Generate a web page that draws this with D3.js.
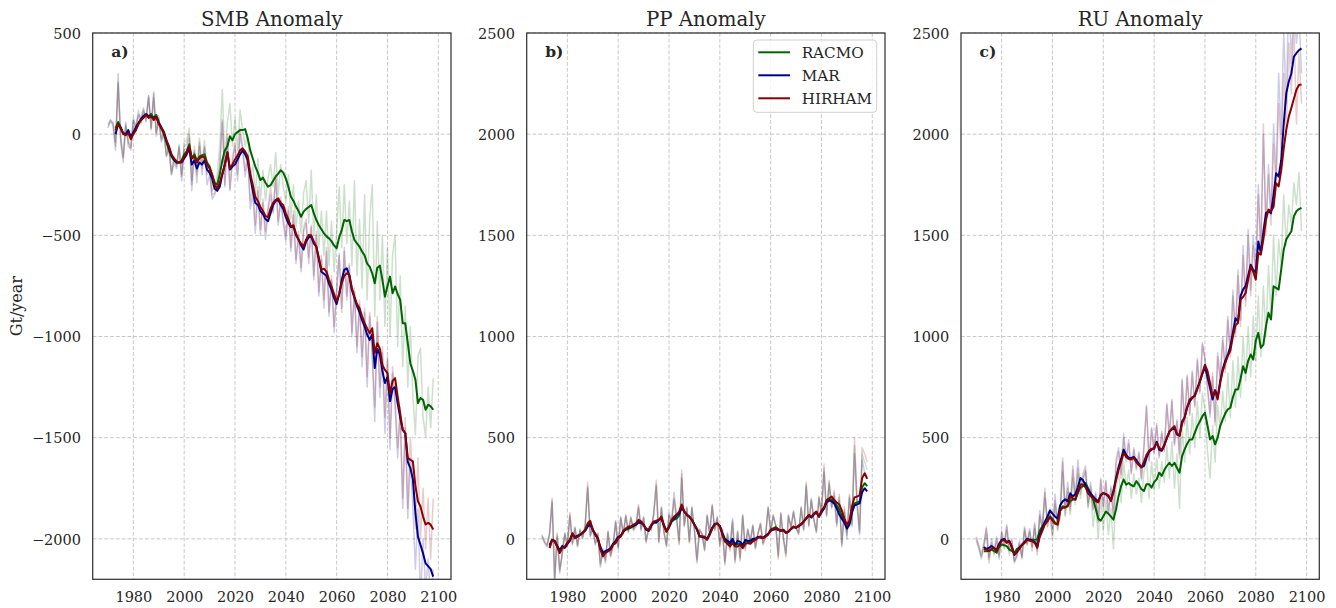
<!DOCTYPE html>
<html><head><meta charset="utf-8">
<script src="https://cdn.jsdelivr.net/npm/d3@7"></script>
<style>body{margin:0;background:#fff} svg{display:block}</style>
</head><body><svg id="chart" width="1336" height="608"></svg>
<script>
// ---------------- DATA ----------------
const rawStartYear = 1970;      // first year of annual (thin) series
const smoothStartYear = 1973;   // first year of running-mean (thick) series
const models = ["RACMO", "MAR", "HIRHAM"];
const panelTitles = ["SMB Anomaly", "PP Anomaly", "RU Anomaly"];
const panelLabels = ["a)", "b)", "c)"];
const yAxisLabel = "Gt/year";
const xTickValues = [1980, 2000, 2020, 2040, 2060, 2080, 2100];
const yTicksSMB = [-2000, -1500, -1000, -500, 0, 500];
const yTicksPPRU = [0, 500, 1000, 1500, 2000, 2500];
const yDomainSMB = [-2200, 500];
const yDomainPPRU = [-200, 2500];
const xDomain = [1964, 2105];

// SMB annual values 1970-2098
const smbRawRACMO = [50,70,60,-40,260,-10,-110,50,-40,-60,
 70,30,120,50,110,80,190,30,180,10,
 90,-30,20,-110,-50,-200,-110,-160,-50,-200,
 -40,-30,30,-230,-60,-180,-20,-150,-30,-180,
 -150,-280,-260,-200,-60,220,-130,60,150,-60,
 80,-80,120,20,-60,0,-230,-150,-300,-120,
 -330,-180,-330,-220,-150,-260,-90,-300,-150,-260,
 -330,-200,-420,-250,-460,-330,-490,-290,-230,-440,
 -180,-500,-300,-560,-380,-600,-380,-650,-430,-680,
 -480,-260,-560,-250,-540,-330,-650,-230,-700,-420,
 -760,-300,-820,-420,-250,-900,-430,-820,-500,-950,
 -560,-1000,-600,-500,-1050,-700,-1150,-850,-1250,-950,
 -1300,-1485,-1100,-1058,-1400,-1495,-1250,-1450,-1206];
const smbRawMAR = [30,70,40,-80,300,-40,-140,60,-60,-70,
 80,40,100,80,130,60,190,30,210,0,
 70,-40,0,-110,-80,-200,-140,-170,-60,-230,
 -80,-70,-20,-280,-90,-240,-60,-200,-70,-250,
 -200,-320,-300,-260,-170,70,-260,-20,-280,-140,
 -60,-230,0,-80,-210,-120,-370,-300,-490,-280,
 -500,-340,-520,-380,-300,-390,-220,-450,-330,-440,
 -530,-380,-580,-400,-640,-500,-680,-480,-440,-640,
 -460,-720,-500,-800,-620,-860,-580,-900,-720,-980,
 -780,-590,-860,-560,-800,-650,-1000,-780,-1080,-840,
 -1150,-880,-1250,-900,-1100,-1420,-930,-1300,-1080,-1480,
 -1120,-1560,-1180,-1350,-1600,-1380,-1850,-1450,-1900,-1600,
 -1850,-2150,-1850,-2300,-2000,-2250,-2100,-2300,-2150];
const smbRawHIRHAM = [40,60,55,-60,250,-20,-120,40,-30,-80,
 60,20,90,60,120,70,180,20,200,-10,
 80,-20,10,-100,-60,-190,-120,-150,-70,-210,
 -60,-50,0,-250,-80,-200,-40,-170,-60,-200,
 -180,-300,-290,-240,-150,60,-250,0,-270,-110,
 -40,-200,30,-60,-180,-100,-330,-260,-450,-260,
 -470,-320,-480,-360,-260,-380,-200,-430,-310,-420,
 -500,-360,-560,-380,-620,-480,-660,-460,-420,-610,
 -450,-700,-480,-780,-600,-820,-560,-880,-700,-950,
 -760,-600,-880,-580,-820,-640,-980,-760,-1050,-820,
 -1100,-860,-1200,-880,-1080,-1350,-900,-1250,-1050,-1400,
 -1100,-1500,-1150,-1300,-1550,-1350,-1800,-1400,-1850,-1500,
 -1700,-1950,-1600,-2000,-1750,-2050,-1800,-2100,-1800];

// SMB running mean 1973-2098
const smbMeanRACMO = [30,60,35,5,0,15,-20,
 5,25,50,70,85,95,85,100,80,95,
 60,30,0,-40,-80,-110,-130,-140,-140,-130,
 -100,-85,-50,-120,-100,-130,-110,-105,-100,-140,
 -160,-200,-240,-250,-200,-130,-80,-60,-10,-30,
 0,10,20,20,25,-20,-80,-120,-160,-190,
 -227,-215,-240,-260,-252,-230,-210,-195,-178,-190,
 -219,-260,-309,-330,-358,-380,-408,-383,-370,-360,
 -350,-390,-424,-450,-470,-490,-505,-515,-530,-550,
 -564,-510,-474,-424,-430,-424,-480,-523,-540,-556,
 -580,-600,-640,-655,-688,-737,-660,-650,-720,-803,
 -750,-704,-786,-753,-790,-819,-934,-934,-1033,-1132,
 -1170,-1214,-1329,-1304,-1313,-1362,-1337,-1345,-1362];
const smbMeanMAR = [0,50,30,5,0,20,-15,
 10,35,55,75,90,100,90,85,80,85,
 55,35,10,-30,-65,-105,-125,-140,-140,-140,
 -120,-100,-70,-150,-130,-170,-140,-150,-130,-175,
 -190,-220,-270,-280,-260,-200,-150,-90,-175,-160,
 -150,-125,-100,-80,-100,-130,-210,-280,-340,-350,
 -380,-395,-420,-430,-391,-350,-330,-325,-350,-370,
 -410,-440,-460,-455,-500,-520,-550,-570,-530,-510,
 -505,-540,-556,-620,-680,-690,-700,-740,-770,-810,
 -840,-790,-720,-670,-663,-700,-770,-810,-850,-880,
 -920,-950,-990,-1017,-990,-1156,-1060,-1090,-1170,-1230,
 -1200,-1320,-1260,-1250,-1330,-1400,-1461,-1477,-1620,-1650,
 -1705,-1872,-1990,-2030,-2072,-2121,-2135,-2150,-2187];
const smbMeanHIRHAM = [20,50,30,0,-5,5,-25,
 0,20,50,70,80,95,80,90,70,85,
 50,30,10,-30,-60,-100,-120,-135,-140,-135,
 -110,-90,-60,-120,-110,-140,-120,-110,-115,-150,
 -170,-200,-250,-270,-240,-195,-150,-90,-170,-150,
 -125,-105,-80,-70,-85,-110,-195,-250,-310,-330,
 -360,-380,-405,-410,-367,-340,-325,-317,-340,-350,
 -391,-420,-457,-450,-490,-523,-540,-556,-520,-498,
 -500,-530,-556,-610,-671,-665,-679,-720,-753,-790,
 -827,-790,-737,-700,-688,-696,-760,-803,-840,-860,
 -900,-934,-960,-984,-959,-1082,-1033,-1060,-1140,-1165,
 -1181,-1280,-1220,-1206,-1296,-1380,-1461,-1477,-1600,-1609,
 -1617,-1740,-1814,-1840,-1890,-1929,-1921,-1930,-1954];

// PP annual values 1970-2098
const ppRawRACMO = [15,-15,-35,25,190,-190,20,-160,-70,25,
 -35,120,-25,55,-35,45,5,65,260,15,
 55,-25,25,-130,-55,-110,35,-85,-35,85,
 -45,105,25,115,35,105,45,65,160,45,
 105,-15,55,45,125,270,-15,155,35,-35,
 110,70,190,90,-30,320,65,155,-15,155,
 45,-110,45,25,-55,115,25,165,45,105,
 -30,45,-120,25,-50,90,-110,35,-100,115,
 -50,45,-15,65,-45,25,75,-25,15,155,
 35,115,65,-90,125,5,-80,115,55,135,
 55,25,155,45,270,65,195,95,35,205,
 125,350,115,280,155,225,70,205,-30,145,
 15,210,70,460,180,30,420,380,340];
const ppRawMAR = [10,-20,-40,20,180,-220,10,-170,-60,30,
 -30,110,-30,50,-30,40,10,60,250,10,
 50,-30,20,-120,-50,-100,30,-80,-30,90,
 -40,100,30,110,40,100,50,70,150,40,
 110,-10,50,50,120,260,-10,150,30,-30,
 130,90,230,100,-10,300,70,150,-10,150,
 50,-100,50,20,-50,120,30,160,50,110,
 -20,50,-110,30,-40,100,-100,40,-90,120,
 -40,50,-10,70,-50,30,70,-20,20,150,
 40,110,70,-80,120,10,-70,110,60,130,
 50,30,150,50,260,70,190,90,40,200,
 120,330,110,270,150,210,60,190,-40,130,
 0,200,60,420,160,20,390,330,300];
const ppRawHIRHAM = [20,-10,-30,30,200,-200,30,-150,-80,20,
 -40,130,-20,60,-40,50,0,70,280,20,
 60,-20,30,-140,-60,-120,40,-90,-40,80,
 -50,110,20,120,30,110,40,60,170,50,
 100,-20,60,40,130,290,-20,160,40,-40,
 120,80,200,110,-20,340,60,160,-20,160,
 40,-120,40,30,-60,110,20,170,40,100,
 -40,40,-130,20,-60,80,-120,30,-110,110,
 -60,40,-20,60,-40,20,80,-30,10,160,
 30,120,60,-100,130,0,-90,120,50,140,
 60,20,160,40,280,60,200,100,30,210,
 130,370,120,290,160,240,80,220,-20,160,
 30,220,80,500,200,40,450,420,380];

// PP running mean 1973-2098
const ppMeanRACMO = [-40,-5,-10,-38,-60,-40,-40,
 -20,-5,25,5,12,20,28,42,70,80,
 45,22,2,-45,-80,-65,-58,-50,-28,-15,
 5,12,35,45,50,55,62,70,85,80,
 68,48,40,65,82,85,92,105,65,35,
 55,85,95,100,115,160,135,118,108,92,
 70,48,12,12,10,-2,22,52,72,75,
 62,25,-8,-20,-30,-15,-32,-25,-25,-38,
 -15,-15,-18,-8,-3,8,10,5,12,22,
 45,52,58,48,40,45,30,36,50,60,
 55,64,73,85,102,116,108,122,132,110,
 135,150,185,195,195,185,165,145,115,90,
 60,75,140,175,180,185,255,275,260];
const ppMeanMAR = [-30,-5,-10,-35,-55,-35,-45,
 -25,-10,25,10,15,20,30,40,60,70,
 45,20,0,-40,-70,-60,-55,-45,-25,-10,
 10,15,35,50,55,60,65,70,80,80,
 70,45,40,65,80,80,95,100,65,40,
 60,90,100,115,125,155,135,120,110,95,
 70,45,15,10,5,0,25,55,75,75,
 65,30,0,-10,-20,0,-30,-10,-15,-30,
 -5,-10,-10,0,0,10,5,5,15,25,
 40,45,48,45,40,42,30,35,48,58,
 55,62,70,85,100,115,105,120,130,110,
 130,150,180,190,185,175,150,120,100,80,
 50,70,130,165,170,175,230,250,235];
const ppMeanHIRHAM = [-46,-5,-13,-40,-70,-46,-38,
 -20,-5,28,3,10,20,30,44,77,89,
 44,25,3,-54,-87,-70,-62,-54,-30,-21,
 3,12,40,50,61,61,70,77,94,86,
 70,50,44,69,86,90,94,110,69,36,
 60,94,110,120,135,170,135,118,110,94,
 70,50,12,12,10,-5,20,50,70,77,
 61,20,-13,-25,-38,-21,-38,-38,-30,-46,
 -25,-21,-25,-13,-5,5,12,3,10,20,
 44,50,53,44,40,44,30,36,50,61,
 55,65,75,85,102,118,110,125,135,110,
 140,155,192,200,209,192,180,170,140,100,
 70,90,160,205,209,215,300,324,296];

// RU annual values 1970-2098
const ruRawRACMO = [-10,-50,-100,-40,20,-120,-30,-80,-20,-100,
 10,-50,40,-80,-30,-110,-80,-30,-90,40,
 -30,30,-40,50,-50,110,50,200,60,130,
 0,170,40,100,330,110,230,120,300,170,
 320,200,290,330,150,240,60,180,0,210,
 40,190,20,150,-50,250,330,180,380,250,
 340,200,320,220,300,180,330,400,200,380,
 240,400,250,380,280,460,300,480,250,420,
 150,560,380,600,420,620,450,680,500,720,
 640,430,300,560,380,660,550,730,580,820,
 600,880,650,900,700,1000,780,1050,800,1100,
 880,1200,900,1250,1000,1350,1100,1500,1200,1480,
 1350,1700,1450,1650,1550,1760,1650,1810,1520];
const ruRawMAR = [10,-30,-80,-20,50,-90,0,-60,10,-80,
 40,-20,70,-50,0,-110,-80,-10,-90,60,
 -20,50,-40,80,-60,140,60,230,90,150,
 50,220,80,140,400,150,280,160,360,210,
 390,250,320,360,180,280,150,230,90,290,
 160,290,130,260,110,390,450,320,520,400,
 490,330,450,350,430,300,450,660,390,550,
 430,570,410,530,440,670,510,690,470,590,
 420,790,570,810,610,830,660,890,730,970,
 880,740,600,800,580,920,800,1000,840,1100,
 920,1230,1020,1330,1080,1450,1180,1530,1230,1500,
 1320,1750,1430,2000,1550,1850,1600,2050,1800,2300,
 2000,2500,2150,2700,2350,2650,2450,2600,2300];
const ruRawHIRHAM = [0,-40,-90,-30,60,-100,-20,-70,0,-90,
 30,-40,60,-60,-10,-120,-90,-20,-100,50,
 -30,40,-60,70,-80,120,40,250,60,120,
 20,190,50,110,380,120,250,140,340,190,
 350,220,300,340,160,260,140,220,80,300,
 150,280,120,250,100,370,430,300,500,380,
 470,320,440,340,420,290,460,650,380,540,
 420,560,400,520,430,660,500,680,460,580,
 400,780,560,800,620,820,650,880,720,960,
 900,760,620,820,560,900,780,980,820,1080,
 900,1200,1000,1300,1050,1400,1150,1500,1200,1450,
 1300,1700,1400,2050,1500,1800,1550,1950,1750,2150,
 1900,2300,2000,2450,2200,2550,2050,2400,2150];

// RU running mean 1973-2098
const ruMeanRACMO = [-61,-61,-58,-53,-60,-69,-40,
 -28,-32,-36,-53,-60,-69,-50,-44,-30,-20,
 -3,-8,-5,-5,-3,40,62,80,87,110,
 98,80,71,140,161,155,165,186,194,194,
 230,252,260,276,250,225,194,150,100,90,
 112,135,125,110,95,145,211,260,293,268,
 276,265,260,285,268,245,237,270,270,253,
 280,294,327,311,340,360,376,360,376,350,
 327,409,442,470,491,491,524,557,580,606,
 623,560,491,508,467,500,557,590,620,640,
 648,700,738,738,790,853,820,880,911,886,
 980,1018,944,960,1050,1117,1084,1248,1240,1232,
 1330,1429,1480,1500,1520,1594,1619,1630,1636];
const ruMeanMAR = [-40,-50,-45,-35,-45,-55,-25,
 -5,0,-15,-10,-40,-80,-65,-45,-30,-15,
 0,-3,-10,-15,-35,20,50,85,110,140,
 125,110,100,165,185,195,185,225,210,220,
 255,300,290,265,240,225,210,195,185,215,
 225,220,210,190,240,300,355,395,441,415,
 400,400,405,390,370,355,360,400,430,440,
 450,480,440,435,460,500,530,540,550,515,
 510,580,600,650,680,695,710,745,780,815,
 850,800,745,689,735,700,780,840,880,910,
 950,1020,1090,1075,1200,1232,1250,1300,1355,1330,
 1314,1470,1413,1520,1610,1618,1610,1700,1807,1790,
 1870,2050,2202,2260,2300,2383,2400,2415,2424];
const ruMeanHIRHAM = [-50,-53,-61,-50,-44,-61,-35,
 -10,-5,-20,-12,-40,-77,-65,-50,-30,-20,
 -5,-8,-12,-20,-44,10,40,70,87,110,
 90,75,71,140,153,155,161,210,200,194,
 230,268,268,255,225,211,202,185,180,219,
 227,222,215,186,230,290,340,380,424,405,
 395,392,400,378,365,352,380,415,435,445,
 445,475,450,440,465,495,530,545,557,520,
 510,570,600,650,689,700,705,740,775,820,
 860,830,770,705,730,689,770,830,870,903,
 930,1000,1055,1067,1182,1195,1215,1280,1347,1320,
 1281,1413,1405,1480,1577,1627,1620,1640,1758,1742,
 1820,1930,2021,2087,2130,2175,2220,2243,2245];

// ---------------- TABLES BUILT FROM DATA ----------------
const modelColors = {RACMO: "#006400", MAR: "#00008b", HIRHAM: "#8b0000"};
const panels = [
  {raw: {RACMO: smbRawRACMO, MAR: smbRawMAR, HIRHAM: smbRawHIRHAM},
   mean: {RACMO: smbMeanRACMO, MAR: smbMeanMAR, HIRHAM: smbMeanHIRHAM},
   yDomain: yDomainSMB, yTicks: yTicksSMB},
  {raw: {RACMO: ppRawRACMO, MAR: ppRawMAR, HIRHAM: ppRawHIRHAM},
   mean: {RACMO: ppMeanRACMO, MAR: ppMeanMAR, HIRHAM: ppMeanHIRHAM},
   yDomain: yDomainPPRU, yTicks: yTicksPPRU},
  {raw: {RACMO: ruRawRACMO, MAR: ruRawMAR, HIRHAM: ruRawHIRHAM},
   mean: {RACMO: ruMeanRACMO, MAR: ruMeanMAR, HIRHAM: ruMeanHIRHAM},
   yDomain: yDomainPPRU, yTicks: yTicksPPRU}
];

// ---------------- LAYOUT ----------------
const svg = d3.select("#chart");
const FONT = "'DejaVu Serif', serif";
const TXT = "#262626";
const panelLeft = [92.7, 526.7, 961];
const panelW = 358.3, plotTop = 33, plotBottom = 579.3;

panels.forEach((p, i) => {
  const x0 = panelLeft[i];
  const x = d3.scaleLinear().domain(xDomain).range([x0, x0 + panelW]);
  const y = d3.scaleLinear().domain(p.yDomain).range([plotBottom, plotTop]);
  const g = svg.append("g");

  const clipId = "clip" + i;
  svg.append("clipPath").attr("id", clipId).append("rect")
    .attr("x", x0).attr("y", plotTop).attr("width", panelW).attr("height", plotBottom - plotTop);

  // grid
  const grid = g.append("g").attr("stroke", "#c2c2c2").attr("stroke-width", 0.9)
    .attr("stroke-dasharray", "3.8,2");
  xTickValues.forEach(t => grid.append("line").attr("x1", x(t)).attr("x2", x(t))
    .attr("y1", plotTop).attr("y2", plotBottom));
  p.yTicks.forEach(t => grid.append("line").attr("x1", x0).attr("x2", x0 + panelW)
    .attr("y1", y(t)).attr("y2", y(t)));

  const plot = g.append("g").attr("clip-path", `url(#${clipId})`);
  const line = d3.line().x(d => x(d[0])).y(d => y(d[1]));

  // thin annual lines
  models.forEach(m => {
    const pts = p.raw[m].map((v, k) => [rawStartYear + k, v]);
    plot.append("path").attr("d", line(pts)).attr("fill", "none")
      .attr("stroke", modelColors[m]).attr("stroke-width", 1.5)
      .attr("stroke-opacity", 0.2).attr("stroke-linejoin", "round");
  });
  // thick running means
  models.forEach(m => {
    const pts = p.mean[m].map((v, k) => [smoothStartYear + k, v]);
    plot.append("path").attr("d", line(pts)).attr("fill", "none")
      .attr("stroke", modelColors[m]).attr("stroke-width", 2)
      .attr("stroke-linejoin", "round");
  });

  // frame
  g.append("rect").attr("x", x0).attr("y", plotTop).attr("width", panelW)
    .attr("height", plotBottom - plotTop).attr("fill", "none")
    .attr("stroke", "#333").attr("stroke-width", 1.25);

  // axes tick labels via d3 axes
  const xAxis = d3.axisBottom(x).tickValues(xTickValues).tickSize(0).tickPadding(0)
    .tickFormat(d3.format("d"));
  const xa = g.append("g").attr("transform", `translate(0,${plotBottom})`).call(xAxis);
  xa.select(".domain").remove();
  xa.selectAll("text").attr("font-family", FONT).attr("font-size", 14.5)
    .attr("fill", TXT).attr("dy", null).attr("y", 22.5);

  const yAxis = d3.axisLeft(y).tickValues(p.yTicks).tickSize(0).tickPadding(11.7)
    .tickFormat(d => d < 0 ? "\u2212" + Math.abs(d) : String(d));
  const ya = g.append("g").attr("transform", `translate(${x0},0)`).call(yAxis);
  ya.select(".domain").remove();
  ya.selectAll("text").attr("font-family", FONT).attr("font-size", 14.5)
    .attr("fill", TXT).attr("dy", "0.36em");

  // title
  svg.append("text").attr("x", x0 + panelW / 2).attr("y", 25.5)
    .attr("text-anchor", "middle").attr("font-family", FONT).attr("font-size", 19.8)
    .attr("fill", TXT).text(panelTitles[i]);
  // panel label
  svg.append("text").attr("x", x0 + 18.5).attr("y", 57)
    .attr("font-family", FONT).attr("font-size", 15.5).attr("font-weight", "bold")
    .attr("fill", TXT).text(panelLabels[i]);

  // legend in panel b
  if (i === 1) {
    const lg = svg.append("g");
    lg.append("rect").attr("x", 753.3).attr("y", 40).attr("width", 123.4).attr("height", 72.3)
      .attr("rx", 3.5).attr("fill", "#fff").attr("fill-opacity", 0.8)
      .attr("stroke", "#d0d0d0").attr("stroke-width", 1);
    models.forEach((m, k) => {
      const ly = 52.3 + k * 23;
      lg.append("line").attr("x1", 758.3).attr("x2", 790).attr("y1", ly).attr("y2", ly)
        .attr("stroke", modelColors[m]).attr("stroke-width", 2);
      lg.append("text").attr("x", 801.7).attr("y", ly + 5.8)
        .attr("font-family", FONT).attr("font-size", 15.2).attr("fill", TXT).text(m);
    });
  }
});

// y label
svg.append("text").attr("transform", `translate(22,${(plotTop + plotBottom) / 2}) rotate(-90)`)
  .attr("text-anchor", "middle").attr("font-family", FONT).attr("font-size", 16)
  .attr("fill", TXT).text(yAxisLabel);
</script>
</body></html>
